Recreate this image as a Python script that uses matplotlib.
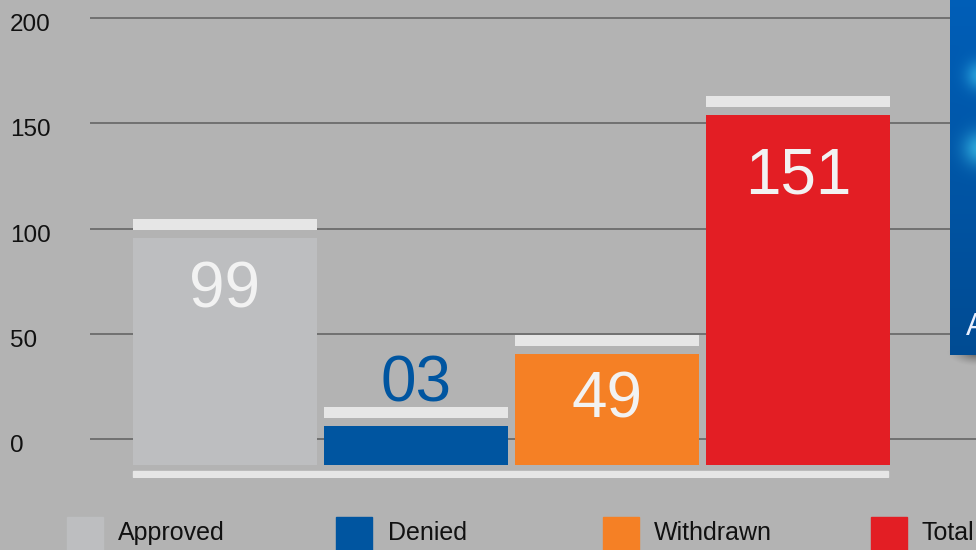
import numpy as np
import matplotlib.pyplot as plt
from matplotlib.patches import Rectangle

plt.rcParams['font.family'] = ['Liberation Sans', 'DejaVu Sans']

# data
categories = ['Approved', 'Denied', 'Withdrawn', 'Total']
value_labels = ['99', '03', '49', '151']
bar_tops = [95.5, 6.4, 40.5, 153.8]      # visible bar top on the axis scale
bar_base = -12.3
colors = ['#bdbec0', '#0055a0', '#f58025', '#e31e24']
label_colors = ['#f2f2f2', '#0055a0', '#f2f2f2', '#f2f2f2']
label_y = [70.5, 26.0, 18.5, 124.5]
yticks = [0, 50, 100, 150, 200]

bg = '#b3b3b3'
cap_col = '#e6e6e6'

W, H = 976, 550
fig = plt.figure(figsize=(W / 100, H / 100), dpi=100, facecolor=bg)

# axes: x from pixel 90 to 976, y from pixel 0 to 478
ax = fig.add_axes([90 / W, (H - 478) / H, (W - 90) / W, 478 / H])
ax.set_facecolor(bg)
ax.set_xlim(-0.7068, 3.932)
ax.set_ylim(-18.25, 208.3)
for s in ax.spines.values():
    s.set_visible(False)
ax.set_xticks([])
ax.set_yticks([])

for t in yticks:
    ax.axhline(t, color='#666666', lw=1.2, zorder=1)
    fig.text(10 / W, ax.transData.transform((0, t))[1] / H - 7 / H, str(t),
             fontsize=17.5, color='#111111', ha='left', va='center')

x = np.arange(len(categories))
bw = 184 / 191
heights = [t - bar_base for t in bar_tops]
ax.bar(x, heights, bottom=bar_base, width=bw, color=colors, zorder=2)
# white caps above each bar
ax.bar(x, 5.2, bottom=np.array(bar_tops) + 3.8, width=bw, color=cap_col, zorder=2)
# base line under the bars
ax.add_patch(Rectangle((x[0] - bw / 2, -17.8), x[-1] - x[0] + bw - 0.01, 2.9,
                       color=cap_col, zorder=2))

for xi, lab, ly, lc in zip(x, value_labels, label_y, label_colors):
    ax.text(xi, ly, lab, fontsize=46, color=lc, ha='center', va='center', zorder=3)

# legend along the bottom
sq_x = [67, 336, 603, 871]
txt_x = [118, 388, 654, 921]
for sx, tx, c, name in zip(sq_x, txt_x, colors, categories):
    fig.patches.append(Rectangle((sx / W, 0), 36 / W, 33 / H, color=c,
                                 transform=fig.transFigure, figure=fig))
    fig.text(tx / W, 17 / H, name, fontsize=18, color='#111111',
             ha='left', va='center')

# shadow below the side panel
sh = fig.add_axes([930 / W, (H - 395) / H, 46 / W, 45 / H])
sh.axis('off')
yy, xx = np.mgrid[0:45, 0:46]
d = np.sqrt(((xx - 46) / 30.0) ** 2 + ((yy - 2) / 14.0) ** 2)
alpha = np.clip(1 - d, 0, 1) ** 1.5 * 0.8
shadow = np.zeros((45, 46, 4))
shadow[..., :3] = 0.25
shadow[..., 3] = alpha
sh.imshow(shadow, extent=(0, 46, 45, 0), aspect='auto')
sh.set_xlim(0, 46)
sh.set_ylim(45, 0)

# blue side panel, partly cut off at the right edge
pn = fig.add_axes([950 / W, (H - 355) / H, 26 / W, 355 / H])
pn.axis('off')
py, px = np.mgrid[0:355, 0:26]
base = np.array([0.0, 0.37, 0.72])
img = np.zeros((355, 26, 3))
shade = 1 - 0.2 * (py / 355)
for ch in range(3):
    img[..., ch] = base[ch] * shade
for gx, gy, r, k in [(30, 75, 10, 0.6), (30, 148, 12, 0.7)]:
    g = np.exp(-(((px - gx) ** 2 + (py - gy) ** 2) / (2 * r ** 2)))
    img += k * g[..., None] * np.array([0.25, 0.45, 0.28])
img = np.clip(img, 0, 1)
pn.imshow(img, extent=(0, 26, 355, 0), aspect='auto')
pn.set_xlim(0, 26)
pn.set_ylim(355, 0)
pn.text(16, 327, 'A', fontsize=22, color='#e8f0ff', ha='left', va='center',
        clip_on=True)

fig.savefig('out.png', dpi=100, facecolor=bg)
